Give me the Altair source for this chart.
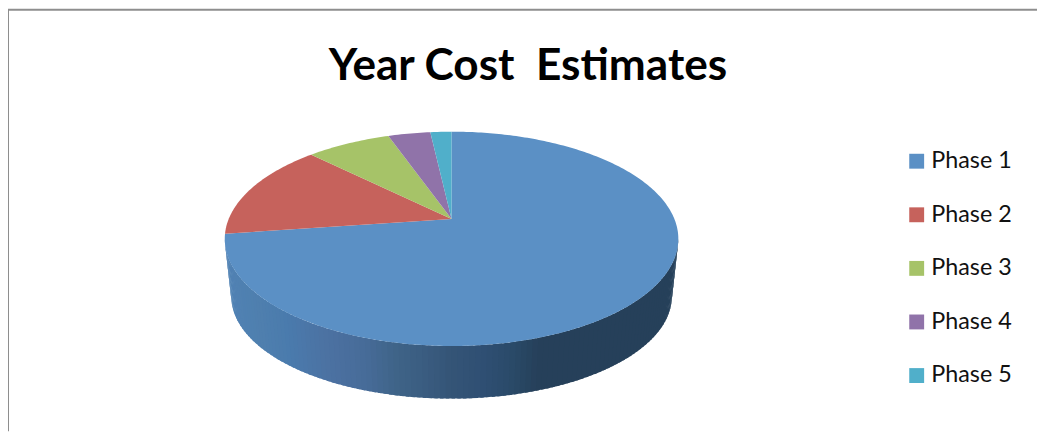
import numpy as np
import pandas as pd
import altair as alt

# --- chart values ---
phases = ["Phase 1", "Phase 2", "Phase 3", "Phase 4", "Phase 5"]
shares = [72.8, 14.6, 7.2, 3.6, 1.8]
slice_colors = ["#5B90C5", "#C6625C", "#A6C368", "#9073A9", "#50AFCA"]
title_text = "Year Cost\u00a0 Estimates"

# shading of the side wall, left to right (px relative to pie apex)
wall_x = [-229, -195, -165, -125, -85, -55, -25, 0, 35, 65, 90, 229]
wall_colors = ["#5082B4", "#4F7FAE", "#4A7BAD", "#4C72A2", "#476B98", "#3F6488",
               "#3A5C80", "#355577", "#2F4F73", "#2A4A68", "#26405A", "#26405A"]

# page geometry
W, H = 1037, 425
APEX_X, APEX_Y = 447, 211
K, A, B = 0.185, 104.3, 224.6     # perspective of the tilted disc


def rim(frac):
    th = 2 * np.pi * np.asarray(frac)
    X, Y = np.sin(th), np.cos(th)
    w = 1 + K * Y
    return B * X / w, A * Y / w


def hex2rgb(h):
    return [int(h[i:i + 2], 16) for i in (1, 3, 5)]


def shade(x):
    rgb = np.array([hex2rgb(c) for c in wall_colors])
    return "#%02x%02x%02x" % tuple(int(round(np.interp(x, wall_x, rgb[:, i]))) for i in range(3))


# top face: one closed outline per slice, computed from the shares
rows = []
start = 0.0
for name, share in zip(phases, shares):
    end = start + share / sum(shares)
    fr = np.linspace(start, end, max(6, int(share * 4)))
    xs, ys = rim(fr)
    rows.append(dict(phase=name, x=0.0, y=0.0, o=0))
    for i, (a, b) in enumerate(zip(xs, ys)):
        rows.append(dict(phase=name, x=float(a), y=float(b), o=i + 1))
    start = end
top = pd.DataFrame(rows)

# side wall: strips between the front rims of the upper and lower ellipses
N = 120
ts = np.linspace(np.pi, 2 * np.pi, N + 1)
wall = []
for i in range(N):
    t0, t1 = ts[i], min(ts[i] + 1.6 * (ts[1] - ts[0]), 2 * np.pi)
    corners = [
        (228.5 * np.cos(t0), -20 + 108 * np.sin(t0)),
        (228.5 * np.cos(t1), -20 + 108 * np.sin(t1)),
        (222 * np.cos(t1), -78 + 103 * np.sin(t1)),
        (222 * np.cos(t0), -78 + 103 * np.sin(t0)),
    ]
    col = shade(228.5 * np.cos((t0 + t1) / 2))
    for j, (a, b) in enumerate(corners):
        wall.append(dict(strip=f"s{i:03d}", c=col, x=float(a), y=float(b), o=j))
wall = pd.DataFrame(wall)

xs = alt.Scale(domain=[-APEX_X, W - APEX_X], range=[0, W], nice=False, zero=False)
ys = alt.Scale(domain=[-(H - APEX_Y), APEX_Y], range=[H, 0], nice=False, zero=False)

wall_layer = alt.Chart(wall).mark_line(filled=True, strokeWidth=0, interpolate="linear").encode(
    x=alt.X("x:Q", scale=xs, axis=None),
    y=alt.Y("y:Q", scale=ys, axis=None),
    detail="strip:N",
    fill=alt.Fill("c:N", scale=None, legend=None),
    order="o:Q",
)

top_layer = alt.Chart(top).mark_line(filled=True, strokeWidth=0, interpolate="linear").encode(
    x=alt.X("x:Q", scale=xs, axis=None),
    y=alt.Y("y:Q", scale=ys, axis=None),
    fill=alt.Fill(
        "phase:N",
        scale=alt.Scale(domain=phases, range=slice_colors),
        legend=alt.Legend(
            title=None, orient="none", legendX=904, legendY=141, padding=0,
            symbolType="square", symbolSize=225, symbolStrokeWidth=0, symbolOpacity=1,
            labelFont="Lato", labelFontSize=23.5, labelColor="#111111", labelOffset=3,
            labelLimit=200, rowPadding=29,
        ),
    ),
    order="o:Q",
)

frame_top = alt.Chart(pd.DataFrame({"a": [0]})).mark_rule(color="#8E8E8E", strokeWidth=2).encode(
    x=alt.value(0), x2=alt.value(W), y=alt.value(0))
frame_left = alt.Chart(pd.DataFrame({"a": [0]})).mark_rule(color="#8E8E8E", strokeWidth=2).encode(
    x=alt.value(0), y=alt.value(0), y2=alt.value(H))

chart = alt.layer(frame_top, frame_left, wall_layer, top_layer).resolve_scale(fill="independent").properties(
    width=W, height=H, padding=0,
    autosize=alt.AutoSizeParams(type="none"),
    background="white",
    title=alt.TitleParams(
        title_text, font="Lato", fontSize=44.5, fontWeight="bold", color="#000000",
        anchor="middle", dx=5.5, offset=-116, baseline="alphabetic",
    ),
).configure_view(stroke=None)

chart.save("out.html", embed_options={"renderer": "svg", "actions": False})
